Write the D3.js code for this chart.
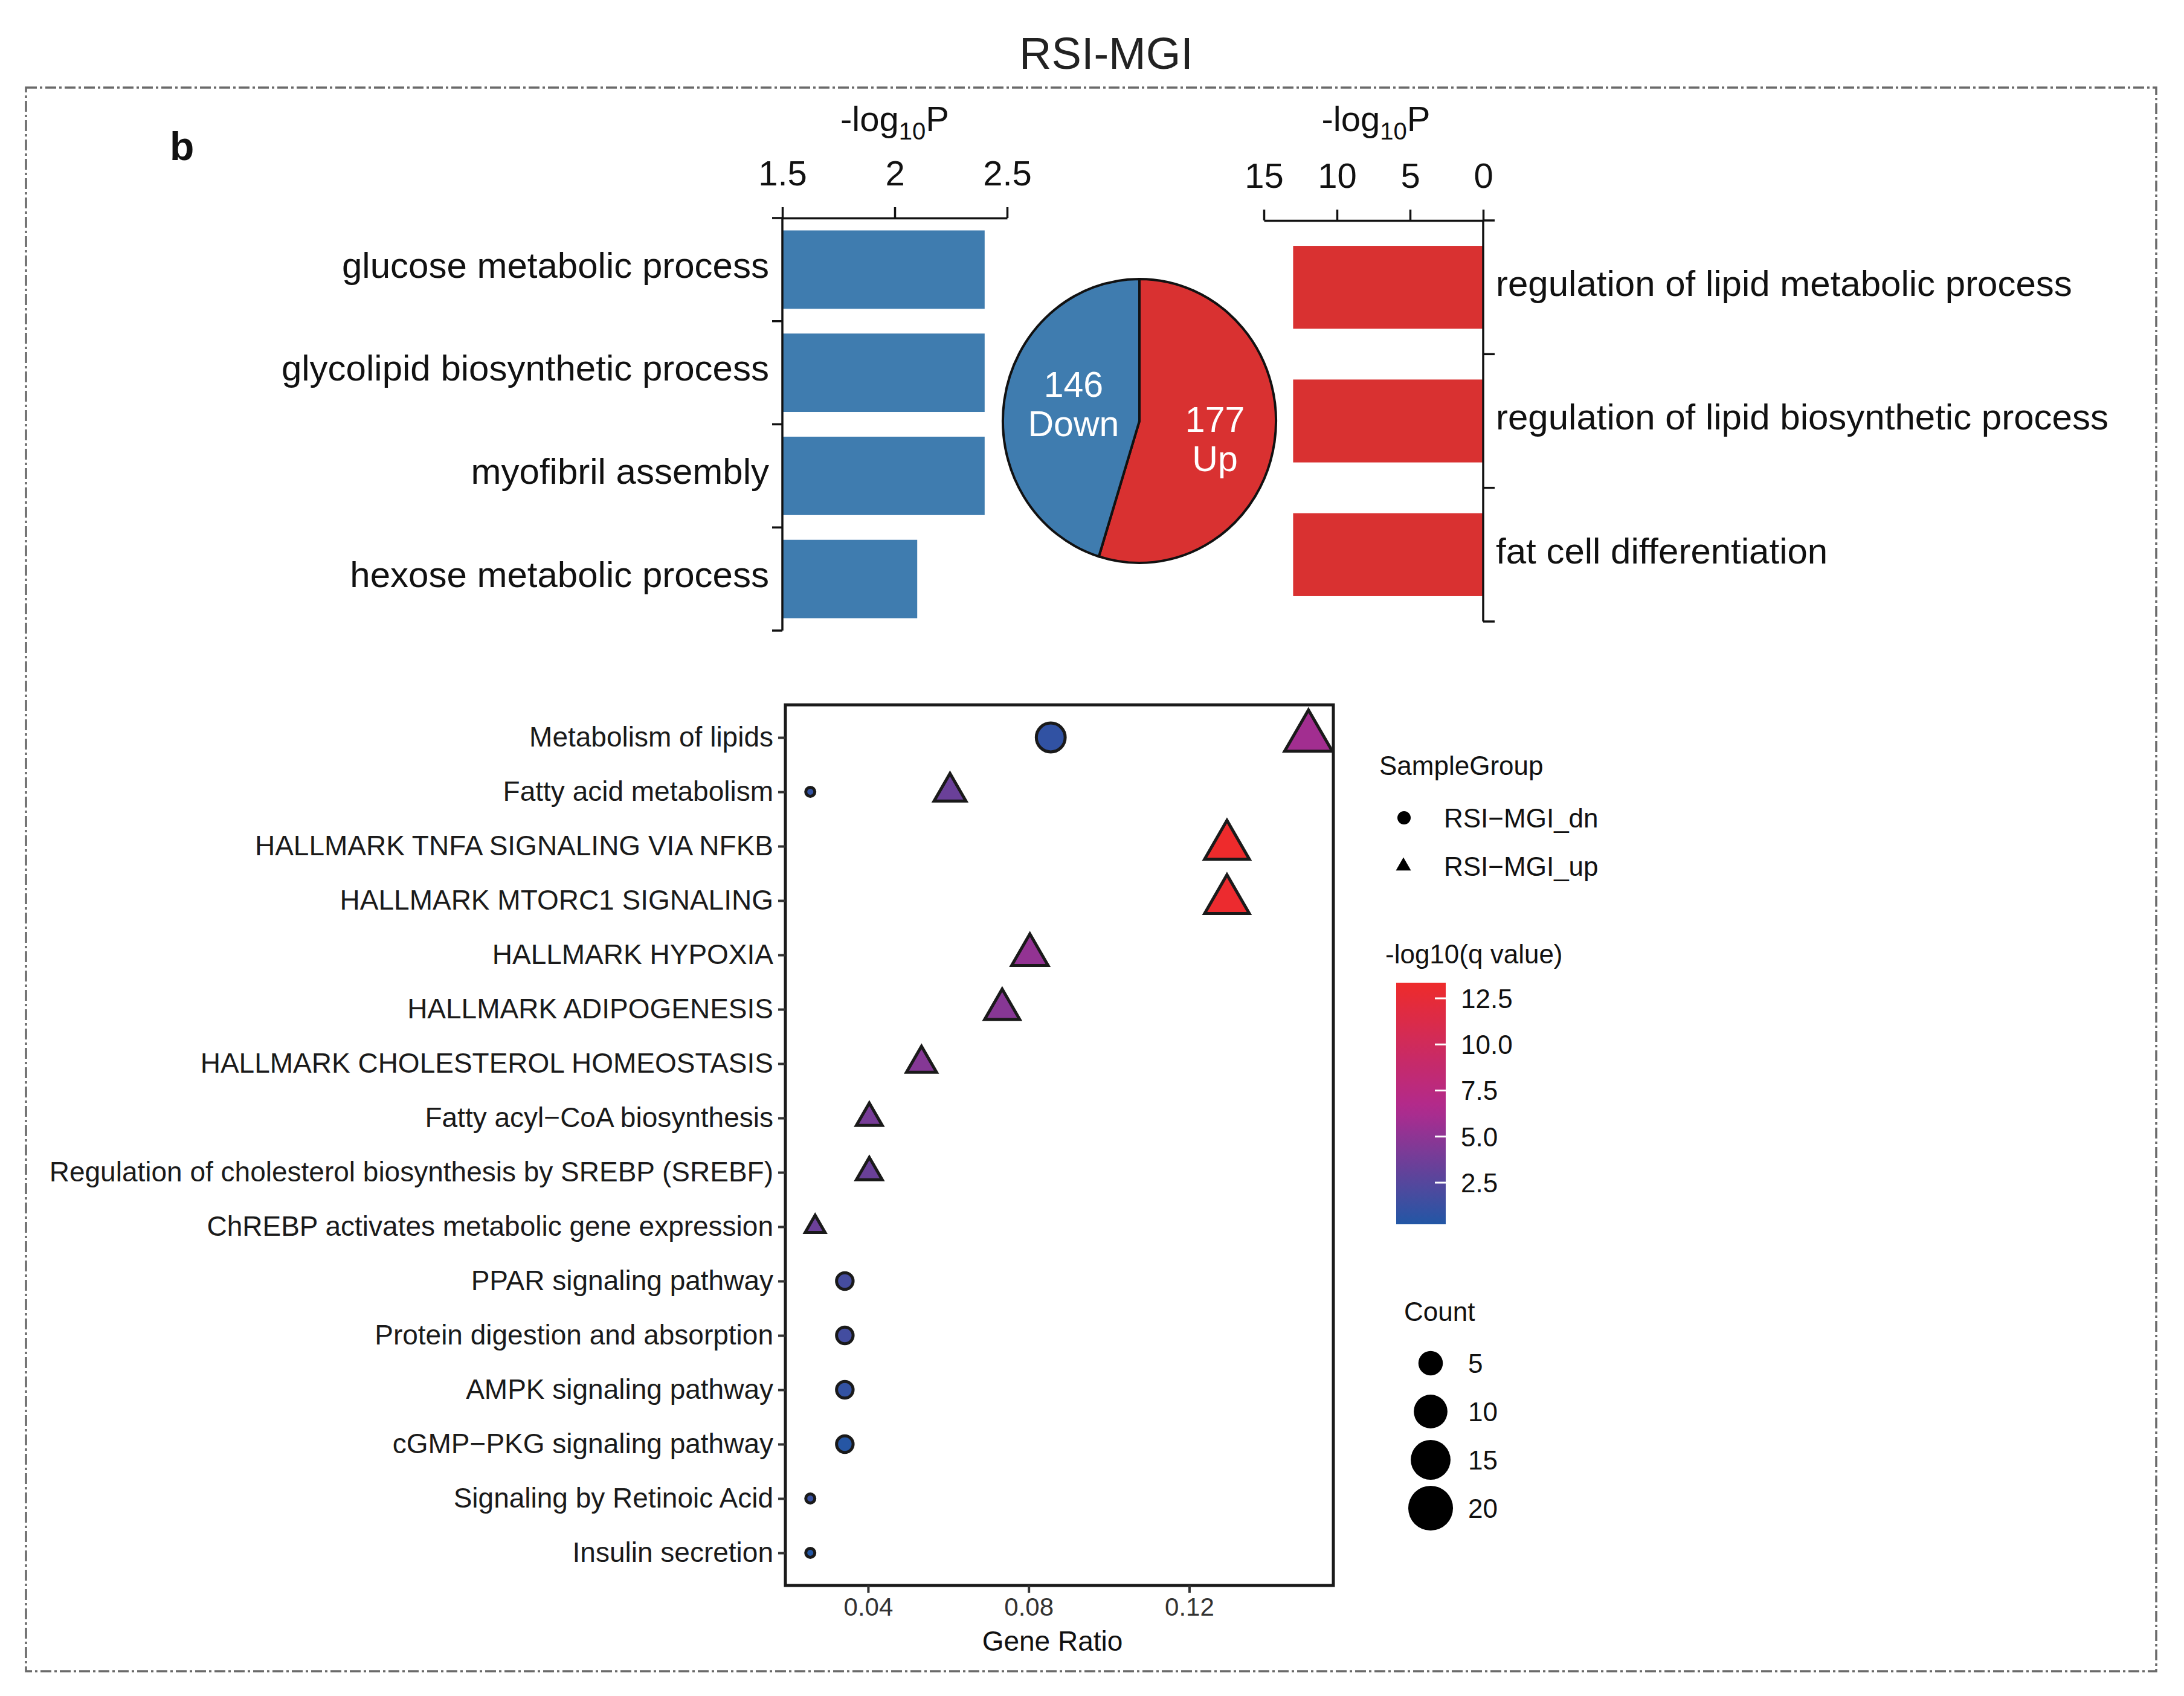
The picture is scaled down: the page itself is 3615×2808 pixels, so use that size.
<!DOCTYPE html>
<html><head><meta charset="utf-8">
<script src="https://cdn.jsdelivr.net/npm/d3@7"></script>
<style>
html,body{margin:0;padding:0;background:#fff}
svg{display:block}
text{font-family:"Liberation Sans",Arial,Helvetica,sans-serif}
</style>
</head><body>
<svg id="chart" width="3615" height="2808"></svg>
<script>
// ---------------- DATA ----------------
const chartTitle = "RSI-MGI";
const panelLetter = "b";

const downBarTerms = ["glucose metabolic process","glycolipid biosynthetic process","myofibril assembly","hexose metabolic process"];
const downBarValues = [2.40, 2.40, 2.40, 2.10];
const downBarTicks = [1.5, 2, 2.5];

const upBarTerms = ["regulation of lipid metabolic process","regulation of lipid biosynthetic process","fat cell differentiation"];
const upBarValues = [13.0, 13.0, 13.0];
const upBarTicks = [15, 10, 5, 0];

const pieLabels = ["Up", "Down"];
const pieValues = [177, 146];

const dotTerms = [
  "Metabolism of lipids","Fatty acid metabolism","HALLMARK TNFA SIGNALING VIA NFKB","HALLMARK MTORC1 SIGNALING",
  "HALLMARK HYPOXIA","HALLMARK ADIPOGENESIS","HALLMARK CHOLESTEROL HOMEOSTASIS","Fatty acyl\u2212CoA biosynthesis",
  "Regulation of cholesterol biosynthesis by SREBP (SREBF)","ChREBP activates metabolic gene expression",
  "PPAR signaling pathway","Protein digestion and absorption","AMPK signaling pathway","cGMP\u2212PKG signaling pathway",
  "Signaling by Retinoic Acid","Insulin secretion"
];

const dnTerms = ["Metabolism of lipids","Fatty acid metabolism","PPAR signaling pathway","Protein digestion and absorption",
  "AMPK signaling pathway","cGMP\u2212PKG signaling pathway","Signaling by Retinoic Acid","Insulin secretion"];
const dnRatio = [0.0855, 0.0256, 0.0342, 0.0342, 0.0342, 0.0342, 0.0256, 0.0256];
const dnCount = [10, 3, 4, 4, 4, 4, 3, 3];
const dnLogQ  = [0.9, 1.0, 1.8, 1.7, 1.0, 0.4, 1.2, 0.3];

const upTerms = ["Metabolism of lipids","Fatty acid metabolism","HALLMARK TNFA SIGNALING VIA NFKB","HALLMARK MTORC1 SIGNALING",
  "HALLMARK HYPOXIA","HALLMARK ADIPOGENESIS","HALLMARK CHOLESTEROL HOMEOSTASIS","Fatty acyl\u2212CoA biosynthesis",
  "Regulation of cholesterol biosynthesis by SREBP (SREBF)","ChREBP activates metabolic gene expression"];
const upRatio = [0.1497, 0.0604, 0.1294, 0.1294, 0.0803, 0.0734, 0.0533, 0.0403, 0.0403, 0.0268];
const upCount = [22, 9, 19, 19, 12, 11, 8, 6, 6, 4];
const upLogQ  = [5.9, 3.4, 13.3, 13.1, 5.2, 4.7, 4.6, 4.0, 3.4, 3.5];

const groupNames = ["RSI\u2212MGI_dn", "RSI\u2212MGI_up"];
const ratioTicks = [0.04, 0.08, 0.12];
const colorTicks = [2.5, 5.0, 7.5, 10.0, 12.5];
const colorDomain = [0.24, 6.5, 13.35];
const colorRange = ["#2257A5", "#B02A8E", "#EE2B2B"];
const countTicks = [5, 10, 15, 20];

// ---------------- STYLE ----------------
const BLUE = "#3F7CAF", RED = "#D93131";
const svg = d3.select("#chart");

// Title & frame
svg.append("text").attr("x", 1831).attr("y", 114).attr("text-anchor","middle")
  .attr("font-size", 74).attr("fill","#222").text(chartTitle);
svg.append("rect").attr("x",43).attr("y",145).attr("width",3526).attr("height",2622)
  .attr("fill","none").attr("stroke","#6a6a6a").attr("stroke-width",3.5)
  .attr("stroke-dasharray","18 5 4 5");
svg.append("text").attr("x",281).attr("y",265).attr("font-size",66).attr("font-weight","bold")
  .attr("fill","#111").text(panelLetter);

function logTitle(g, cx, y){
  const t = g.append("text").attr("x",cx).attr("y",y).attr("text-anchor","middle").attr("font-size",58).attr("fill","#111");
  t.append("tspan").text("-log");
  t.append("tspan").attr("font-size",40).attr("dy",14).text("10");
  t.append("tspan").attr("dy",-14).text("P");
}
function styleAxis(g, fs){
  g.selectAll("path,line").attr("stroke","#111").attr("stroke-width",3.5);
  g.selectAll("text").attr("font-size",fs).attr("fill","#111")
    .attr("font-family",'"Liberation Sans",Arial,sans-serif');
}

// ---------------- LEFT (down) BARS ----------------
const xL = d3.scaleLinear().domain([1.5, 2.5]).range([1295, 1667]);
const yL = d3.scaleBand().domain(downBarTerms).range([361, 1044]).paddingInner(0.24).paddingOuter(0.12);
const gL = svg.append("g");
gL.selectAll("rect").data(downBarTerms).join("rect")
  .attr("x", xL(1.5)).attr("y", d => yL(d))
  .attr("width", (d,i) => xL(downBarValues[i]) - xL(1.5))
  .attr("height", yL.bandwidth()).attr("fill", BLUE);
const axL = gL.append("g").attr("transform",`translate(0,${yL.range()[0]})`)
  .call(d3.axisTop(xL).tickValues(downBarTicks).tickSize(18).tickPadding(36).tickSizeOuter(0).tickFormat(d3.format("")));
styleAxis(axL, 58);
const bL = d3.range(downBarTerms.length + 1).map(i => yL.range()[0] + i * yL.step());
gL.append("line").attr("x1",xL(1.5)).attr("x2",xL(1.5)).attr("y1",bL[0]).attr("y2",bL[bL.length-1])
  .attr("stroke","#111").attr("stroke-width",3.5);
gL.selectAll("line.tk").data(bL).join("line").attr("class","tk")
  .attr("x1",xL(1.5)-17).attr("x2",xL(1.5)).attr("y1",d=>d).attr("y2",d=>d)
  .attr("stroke","#111").attr("stroke-width",3.5);
gL.selectAll("text.lab").data(downBarTerms).join("text").attr("class","lab")
  .attr("x", xL(1.5) - 22).attr("y", d => yL(d) + yL.bandwidth()/2).attr("dy","0.22em")
  .attr("text-anchor","end").attr("font-size",60).attr("fill","#111").text(d=>d);
logTitle(gL, xL(2), 217);

// ---------------- RIGHT (up) BARS ----------------
const xR = d3.scaleLinear().domain([15, 0]).range([2092, 2455]);
const yR = d3.scaleBand().domain(upBarTerms).range([365, 1029]).paddingInner(0.38).paddingOuter(0.19);
const gR = svg.append("g");
gR.selectAll("rect").data(upBarTerms).join("rect")
  .attr("x", (d,i) => xR(upBarValues[i])).attr("y", d => yR(d))
  .attr("width", (d,i) => xR(0) - xR(upBarValues[i]))
  .attr("height", yR.bandwidth()).attr("fill", RED);
const axR = gR.append("g").attr("transform",`translate(0,${yR.range()[0]})`)
  .call(d3.axisTop(xR).tickValues(upBarTicks).tickSize(18).tickPadding(36).tickSizeOuter(0).tickFormat(d3.format("")));
styleAxis(axR, 58);
const bR = d3.range(upBarTerms.length + 1).map(i => yR.range()[0] + i * yR.step());
gR.append("line").attr("x1",xR(0)).attr("x2",xR(0)).attr("y1",bR[0]).attr("y2",bR[bR.length-1])
  .attr("stroke","#111").attr("stroke-width",3.5);
gR.selectAll("line.tk").data(bR).join("line").attr("class","tk")
  .attr("x1",xR(0)).attr("x2",xR(0)+19).attr("y1",d=>d).attr("y2",d=>d)
  .attr("stroke","#111").attr("stroke-width",3.5);
gR.selectAll("text.lab").data(upBarTerms).join("text").attr("class","lab")
  .attr("x", xR(0) + 21).attr("y", d => yR(d) + yR.bandwidth()/2).attr("dy","0.24em")
  .attr("text-anchor","start").attr("font-size",60).attr("fill","#111").text(d=>d);
logTitle(gR, (xR(15)+xR(0))/2 + 4, 217);

// ---------------- PIE ----------------
const pieCx = 1886, pieCy = 697, pieR = 235, pieSx = 0.962;
const pieData = d3.pie().sort(null).value(d => d)(pieValues);
const arc = d3.arc().innerRadius(0).outerRadius(pieR);
const gP = svg.append("g").attr("transform",`translate(${pieCx},${pieCy}) scale(${pieSx},1)`);
gP.selectAll("path").data(pieData).join("path")
  .attr("d", arc).attr("fill",(d,i)=> i===0 ? RED : BLUE)
  .attr("stroke","#111").attr("stroke-width",4).attr("vector-effect","non-scaling-stroke");
const labelR = 125, labelRot = 0.08, labelDx = 8;
pieData.forEach((d,i) => {
  const a = (d.startAngle + d.endAngle)/2 + labelRot;
  const x = pieCx + Math.sin(a)*labelR*pieSx + labelDx, y = pieCy - Math.cos(a)*labelR;
  const t = svg.append("text").attr("text-anchor","middle").attr("font-size",59).attr("fill","#fff");
  t.append("tspan").attr("x",x).attr("y",y - 11).text(pieValues[i]);
  t.append("tspan").attr("x",x).attr("y",y + 54).text(pieLabels[i]);
});

// ---------------- DOT PLOT ----------------
const dnData = dnTerms.map((t,i)=>({term:t, ratio:dnRatio[i], count:dnCount[i], q:dnLogQ[i], grp:0}));
const upData = upTerms.map((t,i)=>({term:t, ratio:upRatio[i], count:upCount[i], q:upLogQ[i], grp:1}));
const allPts = dnData.concat(upData);

const px0 = 1300, px1 = 2207, py0 = 1167, py1 = 2625;
const ext = d3.extent(allPts, d=>d.ratio);
const padX = (ext[1]-ext[0]) * 0.05;
const xD = d3.scaleLinear().domain([ext[0]-padX, ext[1]+padX]).range([px0, px1]);
const yD = d3.scalePoint().domain(dotTerms).range([py0, py1]).padding(0.6);
const color = d3.scaleLinear().domain(colorDomain).range(colorRange).clamp(true);
const cExt = d3.extent(allPts, d=>d.count);
const sizeT = d3.scaleLinear().domain(cExt).range([0,1]).clamp(true);
const circD = d3.scaleLinear().domain([0,1]).range([20, 74]);
const triS  = d3.scaleLinear().domain([0,1]).range([19, 79]);
const st = c => Math.sqrt(sizeT(c));

function triPath(s){
  const R = s/Math.sqrt(3);
  return `M0,${-R}L${s/2},${R/2}L${-s/2},${R/2}Z`;
}

const gD = svg.append("g");
svg.append("clipPath").attr("id","panelClip").append("rect")
  .attr("x",px0).attr("y",py0).attr("width",px1-px0).attr("height",py1-py0);
const gPts = gD.append("g").attr("clip-path","url(#panelClip)");
gPts.selectAll("circle").data(dnData).join("circle")
  .attr("cx", d=>xD(d.ratio)).attr("cy", d=>yD(d.term))
  .attr("r", d=>circD(st(d.count))/2 - 2.5)
  .attr("fill", d=>color(d.q)).attr("stroke","#1a1a1a").attr("stroke-width",5);
gPts.selectAll("path").data(upData).join("path")
  .attr("transform", d=>`translate(${xD(d.ratio)},${yD(d.term)})`)
  .attr("d", d=>triPath(triS(st(d.count))))
  .attr("fill", d=>color(d.q)).attr("stroke","#1a1a1a").attr("stroke-width",5).attr("stroke-linejoin","miter");

gD.append("rect").attr("x",px0).attr("y",py0).attr("width",px1-px0).attr("height",py1-py0)
  .attr("fill","none").attr("stroke","#1a1a1a").attr("stroke-width",5);

const axB = gD.append("g").attr("transform",`translate(0,${py1})`)
  .call(d3.axisBottom(xD).tickValues(ratioTicks).tickSize(12).tickPadding(8).tickFormat(d3.format(".2f")));
axB.select(".domain").remove();
axB.selectAll("line").attr("stroke","#333").attr("stroke-width",4);
axB.selectAll("text").attr("font-size",42).attr("fill","#333");

const axY = gD.append("g").attr("transform",`translate(${px0},0)`)
  .call(d3.axisLeft(yD).tickSize(12).tickPadding(8));
axY.select(".domain").remove();
axY.selectAll("line").attr("stroke","#333").attr("stroke-width",4);
axY.selectAll("text").attr("font-size",46).attr("fill","#1a1a1a");

gD.append("text").attr("x",1742).attr("y",2733).attr("text-anchor","middle")
  .attr("font-size",46).attr("fill","#111").text("Gene Ratio");

// ---------------- LEGENDS ----------------
const gLeg = svg.append("g");
gLeg.append("text").attr("x",2283).attr("y",1283).attr("font-size",44).attr("fill","#111").text("SampleGroup");
const keyY = d3.scalePoint().domain(groupNames).range([1354, 1434]);
gLeg.append("circle").attr("cx",2324).attr("cy",keyY(groupNames[0])).attr("r",11).attr("fill","#000");
gLeg.append("path").attr("transform",`translate(2323,${keyY(groupNames[1])})`).attr("d",triPath(25)).attr("fill","#000");
gLeg.selectAll("text.gk").data(groupNames).join("text").attr("class","gk")
  .attr("x",2390).attr("y",d=>keyY(d)).attr("dy","0.36em").attr("font-size",44).attr("fill","#111").text(d=>d);

gLeg.append("text").attr("x",2293).attr("y",1595).attr("font-size",44).attr("fill","#111").text("-log10(q value)");
const cbX = 2311, cbW = 82;
const cbY = d3.scaleLinear().domain([colorDomain[0], colorDomain[2]]).range([2027, 1627]);
const grad = svg.append("defs").append("linearGradient").attr("id","cbGrad")
  .attr("x1",0).attr("y1",1).attr("x2",0).attr("y2",0);
const stops = d3.range(0, 1.0001, 0.05);
grad.selectAll("stop").data(stops).join("stop")
  .attr("offset", d=>d)
  .attr("stop-color", d=>color(colorDomain[0] + d*(colorDomain[2]-colorDomain[0])));
gLeg.append("rect").attr("x",cbX).attr("y",cbY.range()[1]).attr("width",cbW)
  .attr("height",cbY.range()[0]-cbY.range()[1]).attr("fill","url(#cbGrad)");
gLeg.selectAll("line.cbt").data(colorTicks).join("line").attr("class","cbt")
  .attr("x1",cbX+cbW-18).attr("x2",cbX+cbW).attr("y1",d=>cbY(d)).attr("y2",d=>cbY(d))
  .attr("stroke","#fff").attr("stroke-width",3);
gLeg.selectAll("text.cbl").data(colorTicks).join("text").attr("class","cbl")
  .attr("x",2418).attr("y",d=>cbY(d)).attr("dy","0.36em").attr("font-size",44).attr("fill","#111")
  .text(d=>d3.format(".1f")(d));

gLeg.append("text").attr("x",2324).attr("y",2187).attr("font-size",44).attr("fill","#111").text("Count");
const cntY = d3.scalePoint().domain(countTicks).range([2257, 2497]);
gLeg.selectAll("circle.ck").data(countTicks).join("circle").attr("class","ck")
  .attr("cx",2368).attr("cy",d=>cntY(d)).attr("r",d=>circD(st(d))/2 + 1.5).attr("fill","#000");
gLeg.selectAll("text.ckl").data(countTicks).join("text").attr("class","ckl")
  .attr("x",2430).attr("y",d=>cntY(d)).attr("dy","0.36em").attr("font-size",44).attr("fill","#111").text(d=>d);
</script>
</body></html>
